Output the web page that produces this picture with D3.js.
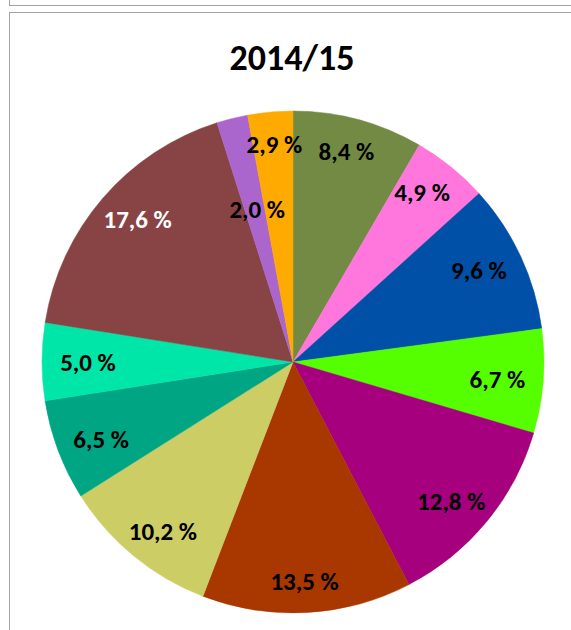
<!DOCTYPE html>
<html>
<head>
<meta charset="utf-8">
<script src="https://cdn.jsdelivr.net/npm/d3@7"></script>
<style>
  body { margin: 0; background: #fff; }
  svg { display: block; }
</style>
</head>
<body>
<svg id="chart" width="571" height="630"></svg>
<script>
// slices clockwise from 12 o'clock
const shares = [8.4, 4.9, 9.6, 6.7, 12.8, 13.5, 10.2, 6.5, 5.0, 17.6, 2.0, 2.9];
const sliceColors = ["#728a43", "#ff77dd", "#0050a8", "#55ff00", "#a6007f", "#a83700",
                     "#cdcd66", "#00a583", "#00e6a8", "#884444", "#aa66cc", "#ffaa00"];
const labelColors = ["#000", "#000", "#000", "#000", "#000", "#000",
                     "#000", "#000", "#000", "#fff", "#000", "#000"];
const title = "2014/15";

const svg = d3.select("#chart");
const font = "Carlito, Lato, 'Open Sans', sans-serif";

// outer frames (chart area borders)
svg.append("rect")
  .attr("x", 9.5).attr("y", -10).attr("width", 600).attr("height", 15.5)
  .attr("fill", "none").attr("stroke", "#a3a3a3");
svg.append("rect")
  .attr("x", 9.5).attr("y", 12.5).attr("width", 600).attr("height", 640)
  .attr("fill", "none").attr("stroke", "#a3a3a3");

svg.append("text")
  .attr("x", 292).attr("y", 70)
  .attr("text-anchor", "middle")
  .style("font-family", font).style("font-weight", "bold").style("font-size", "36px")
  .text(title);

const cx = 293, cy = 362, radius = 251;

const data = shares.map((v, i) => ({ value: v, i }));
const pie = d3.pie().value(d => d.value).sort(null);
const arcs = pie(data);
const arc = d3.arc().innerRadius(0).outerRadius(radius);

const g = svg.append("g").attr("transform", `translate(${cx},${cy})`);

g.selectAll("path.slice")
  .data(arcs)
  .enter()
  .append("path")
  .attr("class", "slice")
  .attr("d", arc)
  .attr("fill", d => sliceColors[d.data.i])
  .attr("stroke", d => sliceColors[d.data.i])
  .attr("stroke-width", 0.5);

// labels sit on an ellipse inside the rim (wide text needs more room sideways),
// the tiny 2,0 % one is pulled inward to clear its neighbour
const lx = radius - 46, ly = radius - 32;
const labelK = d => d.data.value <= 2.0 ? 0.72 : 1;

g.selectAll("text.lbl")
  .data(arcs)
  .enter()
  .append("text")
  .attr("class", "lbl")
  .attr("transform", d => {
    const a = (d.startAngle + d.endAngle) / 2;
    const k = labelK(d);
    return `translate(${Math.sin(a) * lx * k},${-Math.cos(a) * ly * k})`;
  })
  .attr("text-anchor", "middle")
  .attr("dy", "0.36em")
  .style("font-family", font).style("font-weight", "bold").style("font-size", "25px")
  .attr("fill", d => labelColors[d.data.i])
  .text(d => d.data.value.toFixed(1).replace(".", ",") + " %");
</script>
</body>
</html>
